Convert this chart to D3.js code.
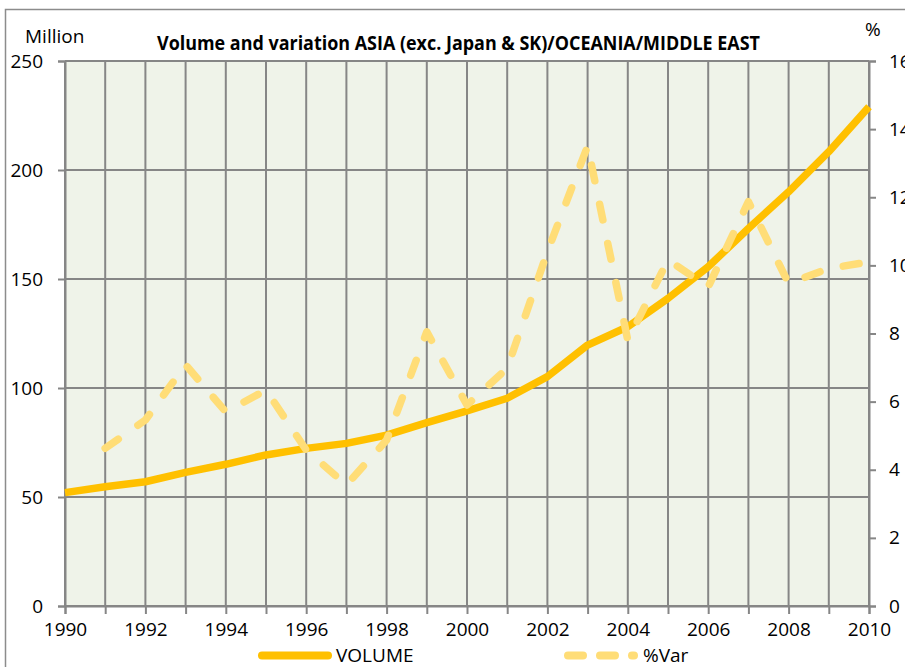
<!DOCTYPE html>
<html lang="en">
<head>
    <meta charset="UTF-8">
    <title>Volume and variation ASIA/OCEANIA/MIDDLE EAST</title>
    <script src="https://d3js.org/d3.v7.min.js"></script>
    <style>
        body {
            margin: 0;
            padding: 0;
            overflow: hidden;
            background-color: #fff;
        }
        text {
            font-family: "Open Sans", "Noto Sans", sans-serif;
            fill: #000;
        }
        .title {
            font-weight: bold;
        }
    </style>
</head>
<body>
    <div id="chart"></div>
    <script>
        // Data
        const years = d3.range(1990, 2011);
        const volume = [52, 54.7, 57, 61.3, 65, 69.3, 72.3, 74.6, 78.4, 84.1, 89.5,
                        95.3, 105.2, 119.7, 128.1, 141.1, 155.6, 173.2, 190, 208.4, 229];
        const pctVar = [null, 4.63, 5.46, 7.08, 5.7, 6.34, 4.58, 3.55, 4.87, 8.05, 5.9,
                        6.98, 10.4, 13.5, 7.8, 10.16, 9.37, 11.87, 9.47, 9.91, 10.1];
        const leftTicks = [0, 50, 100, 150, 200, 250];
        const rightTicks = [0, 2, 4, 6, 8, 10, 12, 14, 16];
        const xLabels = [1990, 1992, 1994, 1996, 1998, 2000, 2002, 2004, 2006, 2008, 2010];

        const width = 905;
        const height = 667;
        const margin = {top: 61, right: 36, bottom: 61, left: 65};

        const svg = d3.select("#chart")
            .append("svg")
            .attr("width", width)
            .attr("height", height);

        // outer chart frame
        svg.append("rect")
            .attr("x", 5.5)
            .attr("y", 9.5)
            .attr("width", width + 20)
            .attr("height", height + 20)
            .attr("fill", "none")
            .attr("stroke", "#8c8c8c")
            .attr("stroke-width", 1.5);

        const x = d3.scaleLinear()
            .domain([1990, 2010])
            .range([margin.left, width - margin.right]);

        const yLeft = d3.scaleLinear()
            .domain([0, 250])
            .range([height - margin.bottom, margin.top]);

        const yRight = d3.scaleLinear()
            .domain([0, 16])
            .range([height - margin.bottom, margin.top]);

        // plot background
        svg.append("rect")
            .attr("x", x(1990))
            .attr("y", yLeft(250))
            .attr("width", x(2010) - x(1990))
            .attr("height", yLeft(0) - yLeft(250))
            .attr("fill", "#eff3e9");

        // grid lines
        const grid = svg.append("g")
            .attr("stroke", "#868686")
            .attr("stroke-width", 2);

        grid.selectAll(".vgrid")
            .data(years)
            .enter().append("line")
            .attr("x1", d => x(d))
            .attr("x2", d => x(d))
            .attr("y1", yLeft(250))
            .attr("y2", yLeft(0));

        grid.selectAll(".hgrid")
            .data(leftTicks)
            .enter().append("line")
            .attr("x1", x(1990))
            .attr("x2", x(2010))
            .attr("y1", d => yLeft(d))
            .attr("y2", d => yLeft(d));

        // axes
        const leftAxis = svg.append("g")
            .attr("transform", `translate(${x(1990)},0)`)
            .call(d3.axisLeft(yLeft).tickValues(leftTicks).tickSize(7).tickPadding(15));

        const rightAxis = svg.append("g")
            .attr("transform", `translate(${x(2010)},0)`)
            .call(d3.axisRight(yRight).tickValues(rightTicks).tickSize(7).tickPadding(13));

        const bottomAxis = svg.append("g")
            .attr("transform", `translate(0,${yLeft(0)})`)
            .call(d3.axisBottom(x).tickValues(years).tickSize(8).tickPadding(9)
                .tickFormat(d => xLabels.includes(d) ? d : ""));

        [leftAxis, rightAxis, bottomAxis].forEach(a => {
            a.select(".domain").attr("stroke", "#868686").attr("stroke-width", 2);
            a.selectAll(".tick line").attr("stroke", "#868686").attr("stroke-width", 2);
            a.selectAll("text")
                .attr("font-size", 19)
                .attr("font-family", "'Open Sans', sans-serif")
                .attr("fill", "#000");
        });

        // lines
        const volLine = d3.line()
            .x((d, i) => x(years[i]))
            .y(d => yLeft(d));

        svg.append("path")
            .datum(volume)
            .attr("d", volLine)
            .attr("fill", "none")
            .attr("stroke", "#ffc000")
            .attr("stroke-width", 7.5)
            .attr("stroke-linejoin", "round");

        const varLine = d3.line()
            .defined(d => d !== null)
            .x((d, i) => x(years[i]))
            .y(d => yRight(d));

        svg.append("path")
            .datum(pctVar)
            .attr("d", varLine)
            .attr("fill", "none")
            .attr("stroke", "#ffdd77")
            .attr("stroke-width", 7.5)
            .attr("stroke-linecap", "round")
            .attr("stroke-linejoin", "round")
            .attr("stroke-dasharray", "16,24");

        // titles
        svg.append("text")
            .attr("class", "title")
            .attr("x", 157)
            .attr("y", 50)
            .attr("font-size", 20)
            .attr("textLength", 603)
            .attr("lengthAdjust", "spacingAndGlyphs")
            .text("Volume and variation ASIA (exc. Japan & SK)/OCEANIA/MIDDLE EAST");

        svg.append("text")
            .attr("x", 25)
            .attr("y", 43)
            .attr("font-size", 19)
            .text("Million");

        svg.append("text")
            .attr("x", 865)
            .attr("y", 36)
            .attr("font-size", 19)
            .text("%");

        // legend
        const legend = svg.append("g");
        legend.append("line")
            .attr("x1", 262).attr("x2", 328)
            .attr("y1", 655.5).attr("y2", 655.5)
            .attr("stroke", "#ffc000")
            .attr("stroke-width", 8)
            .attr("stroke-linecap", "round");
        legend.append("text")
            .attr("x", 336).attr("y", 662)
            .attr("font-size", 19)
            .text("VOLUME");

        legend.append("line")
            .attr("x1", 568).attr("x2", 634)
            .attr("y1", 655.5).attr("y2", 655.5)
            .attr("stroke", "#ffdd77")
            .attr("stroke-width", 8)
            .attr("stroke-linecap", "round")
            .attr("stroke-dasharray", "15,17");
        legend.append("text")
            .attr("x", 643).attr("y", 662)
            .attr("font-size", 19)
            .text("%Var");
    </script>
</body>
</html>
